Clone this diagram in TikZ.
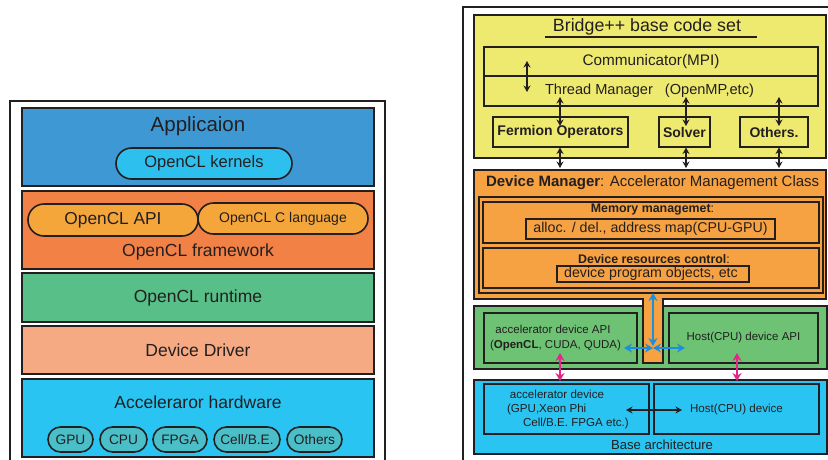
\documentclass[tikz,border=0pt]{standalone}
\usepackage{fontspec}
\setmainfont{Liberation Sans}
\usetikzlibrary{arrows.meta}
\definecolor{ink}{HTML}{231F20}
\definecolor{appblue}{HTML}{3E98D3}
\definecolor{kcyan}{HTML}{2DC0EF}
\definecolor{fworange}{HTML}{F28146}
\definecolor{porange}{HTML}{F4A63A}
\definecolor{rgreen}{HTML}{57BF87}
\definecolor{dsalmon}{HTML}{F6AA84}
\definecolor{hwblue}{HTML}{29C4F1}
\definecolor{pteal}{HTML}{4BBFC8}
\definecolor{byellow}{HTML}{EEEA70}
\definecolor{dmorange}{HTML}{F6A243}
\definecolor{bgreen}{HTML}{6DC274}
\definecolor{bblue}{HTML}{2AC4F2}
\definecolor{arrblue}{HTML}{1B8FDB}
\definecolor{arrmag}{HTML}{E5258C}
\newcommand\fsz[1]{\fontsize{#1}{#1}\selectfont}
\newcommand\rbox[7]{\node[#2,anchor=north west,minimum width={#5pt-#3pt},minimum height={#6pt-#4pt}] (#1) at (#3,#4) {#7};}
\begin{document}
\begin{tikzpicture}[x=1pt,y=-1pt,
  frame/.style={draw=ink,line width=1.8pt},
  box/.style={draw=ink,line width=1.6pt,inner sep=0pt,outer sep=0pt,rectangle,text=ink},
  pill/.style={box,rounded corners=#1},
  lbl/.style={inner sep=0pt,outer sep=0pt,text=ink,anchor=center},
  dbl/.style={{Stealth[length=6.5pt,width=7pt]}-{Stealth[length=6.5pt,width=7pt]},line width=1.1pt,draw=ink},
  bdbl/.style={{Stealth[length=8pt,width=9pt]}-{Stealth[length=8pt,width=9pt]},line width=1.4pt,draw=arrblue},
  mdbl/.style={{Stealth[length=8pt,width=9pt]}-{Stealth[length=8pt,width=9pt]},line width=1.5pt,draw=arrmag},
]
\useasboundingbox (0,0) rectangle (828,459);

% ---------------- left panel ----------------
\draw[frame] (10,462) -- (10,101) -- (385,101) -- (385,462);

\rbox{app}{box,fill=appblue}{22}{108}{374}{186}{}
\node[lbl,font=\fsz{20.5}] (apptxt) at (198,126) {Applicaion};
\rbox{kern}{pill=15.5pt,fill=kcyan,font=\fsz{16.5}}{116}{148}{292}{179}{OpenCL kernels}

\rbox{fw}{box,fill=fworange}{22}{191}{374}{269}{}
\rbox{api}{pill=16pt,fill=porange,font=\fsz{17.3}}{28}{204}{198}{236}{OpenCL API}
\rbox{clang}{pill=15.5pt,fill=porange,font=\fsz{14}}{198}{203}{368}{234}{OpenCL C language}
\node[lbl,font=\fsz{17.5}] (fwtxt) at (198,252) {OpenCL framework};

\rbox{rt}{box,fill=rgreen,font=\fsz{17.5}}{22}{273}{374}{322}{OpenCL runtime}
\rbox{drv}{box,fill=dsalmon,font=\fsz{17.5}}{22}{326}{374}{374}{Device Driver}
\rbox{hw}{box,fill=hwblue}{22}{379}{374}{457}{}
\node[lbl,font=\fsz{17.5}] (hwtxt) at (198,402) {Acceleraror hardware};
\rbox{gpu}{pill=12.5pt,fill=pteal,font=\fsz{13.7}}{48}{427}{93}{452}{GPU}
\rbox{cpu}{pill=12.5pt,fill=pteal,font=\fsz{13.7}}{100}{427}{147}{452}{CPU}
\rbox{fpga}{pill=12.5pt,fill=pteal,font=\fsz{13.7}}{153}{427}{207}{452}{FPGA}
\rbox{cell}{pill=12.5pt,fill=pteal,font=\fsz{13.7}}{214}{427}{280}{452}{Cell/B.E.}
\rbox{oth}{pill=12.5pt,fill=pteal,font=\fsz{13.7}}{287}{427}{342}{452}{Others}

% ---------------- right panel ----------------
\draw[frame] (463,462) -- (463,7) -- (832,7);

\rbox{bridge}{box,fill=byellow}{474}{15}{826}{158}{}
\node[lbl,font=\fsz{17.8}] (btitle) at (647,27) {Bridge++ base code set};
\coordinate (ul1) at (545,37);
\coordinate (ul2) at (757,37);
\draw[draw=ink,line width=1.2pt] (ul1) -- (ul2);

\rbox{comm}{box,font=\fsz{15.3}}{484}{47}{818}{76}{Communicator(MPI)}
\rbox{thr}{box}{484}{76}{818}{106}{}
\node[lbl,anchor=west,font=\fsz{14.6}] (thrtxt) at (545,90.5) {Thread Manager\hspace{12pt}(OpenMP,etc)};

\rbox{ferm}{box,font=\bfseries\fsz{14}}{493}{117}{628}{147}{Fermion Operators}
\rbox{solv}{box,font=\bfseries\fsz{14}}{659}{117}{710}{147}{Solver}
\rbox{othr}{box,font=\bfseries\fsz{14}}{740}{117}{808}{147}{Others.}

% green API layer (under the device manager stem)
\rbox{grn}{box,fill=bgreen}{474}{306}{827}{369}{}

% device manager with stem
\draw[draw=ink,line width=1.6pt,fill=dmorange] (474,170) -- (826,170) -- (826,299) -- (663,299) -- (663,363) -- (643,363) -- (643,299) -- (474,299) -- cycle;
\node[lbl,anchor=west,font=\fsz{15}] (dmtxt) at (486,182.5) {\textbf{Device Manager}: Accelerator Management Class};
\rbox{dmframe}{box}{479}{197}{823}{293}{}
\rbox{mem}{box}{483}{202}{819}{243}{}
\node[lbl,font=\fsz{12.4}] (memtxt) at (652.5,209.5) {\textbf{Memory managemet}:};
\rbox{memin}{box,line width=1.3pt,font=\fsz{14.2}}{526}{219}{775}{239}{alloc. / del., address map(CPU-GPU)}
\rbox{res}{box}{483}{248}{819}{288}{}
\node[lbl,font=\fsz{12.4}] (restxt) at (654,259.5) {\textbf{Device resources control}:};
\rbox{resin}{box,line width=1.3pt}{557}{266}{749}{282}{}
\node[lbl,font=\fsz{14.2}] (resintxt) at (651,274) {device program objects, etc};

\rbox{accapi}{box}{484}{313}{637}{363}{}
\node[lbl,font=\fsz{11.5}] (accapi1) at (553,329.5) {accelerator device API};
\node[lbl,font=\fsz{11.5}] (accapi2) at (555.5,346) {(\textbf{OpenCL}, CUDA, QUDA)};
\rbox{hostapi}{box,font=\fsz{11.5}}{669}{313}{818}{363}{Host(CPU) device API}

\rbox{base}{box,fill=bblue}{474}{380}{827}{454}{}
\rbox{accdev}{box}{484}{384}{649}{434}{}
\node[lbl,font=\fsz{11.6}] (ad1) at (557,394.5) {accelerator device};
\node[lbl,anchor=west,font=\fsz{11.6}] (ad2) at (507,409) {(GPU,Xeon Phi};
\node[lbl,anchor=west,font=\fsz{11.6}] (ad3) at (523,423) {Cell/B.E. FPGA etc.)};
\rbox{hostdev}{box,font=\fsz{11.6}}{654}{384}{819}{434}{Host(CPU) device}
\node[lbl,font=\fsz{13.1}] (basetxt) at (662,445) {Base architecture};

% ---------------- arrows ----------------
\coordinate (ct1) at (527,61);
\coordinate (ct2) at (527,92);
\draw[dbl] (ct1) -- (ct2);
\coordinate (fa1) at (560,97);  \coordinate (fa2) at (560,126);
\coordinate (sa1) at (686,97);  \coordinate (sa2) at (686,126);
\coordinate (oa1) at (779,97);  \coordinate (oa2) at (779,126);
\draw[dbl] (fa1) -- (fa2);
\draw[dbl] (sa1) -- (sa2);
\draw[dbl] (oa1) -- (oa2);
\coordinate (fb1) at (560,147.5);  \coordinate (fb2) at (560,168);
\coordinate (sb1) at (686,147.5);  \coordinate (sb2) at (686,168);
\coordinate (ob1) at (779,147.5);  \coordinate (ob2) at (779,168);
\draw[dbl] (fb1) -- (fb2);
\draw[dbl] (sb1) -- (sb2);
\draw[dbl] (ob1) -- (ob2);

\coordinate (bv1) at (653,293);
\coordinate (bv2) at (653,346);
\coordinate (bh1) at (624,348);
\coordinate (bhc) at (653,348);
\coordinate (bh2) at (685,348);
\draw[bdbl] (bv1) -- (bv2);
\draw[bdbl] (bh1) -- (bhc);
\draw[bdbl] (bhc) -- (bh2);

\coordinate (m1a) at (560,353); \coordinate (m1b) at (560,381);
\coordinate (m2a) at (737,353); \coordinate (m2b) at (737,381);
\draw[mdbl] (m1a) -- (m1b);
\draw[mdbl] (m2a) -- (m2b);

\coordinate (ha1) at (626,410);
\coordinate (ha2) at (682,410);
\draw[dbl] (ha1) -- (ha2);
\end{tikzpicture}
\end{document}
